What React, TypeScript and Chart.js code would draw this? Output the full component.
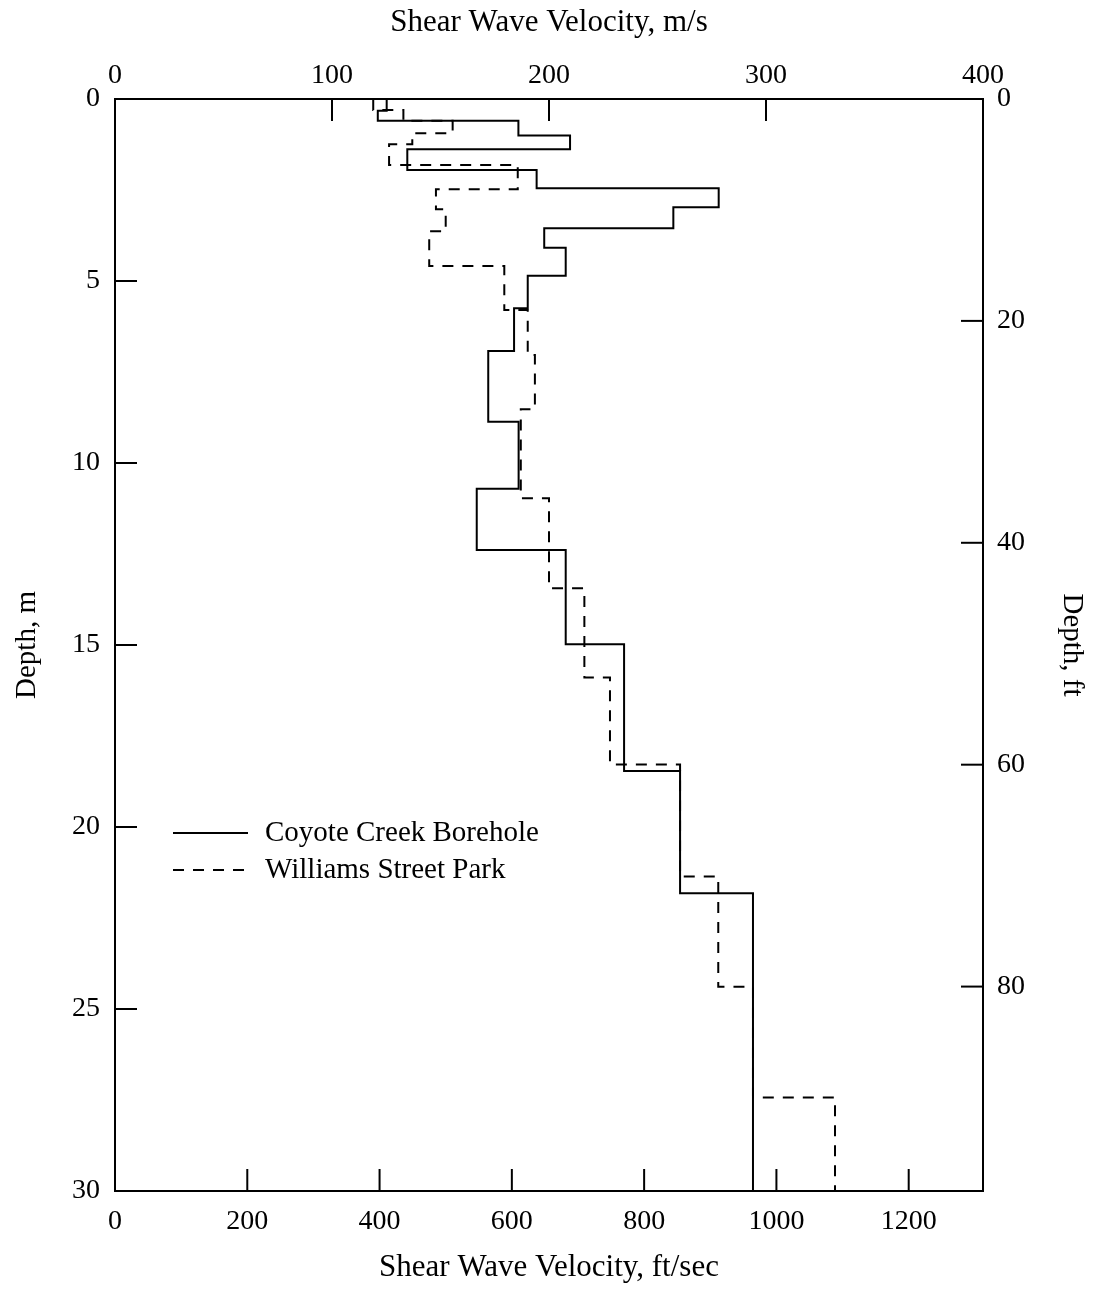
import React, { useEffect, useRef } from 'react';
import { Chart, registerables } from 'chart.js';

Chart.register(...registerables);

const FT_PER_M = 1 / 0.3048;

// Layer boundaries (depth, m) and shear-wave velocity per layer (m/s)
const coyoteDepthsM = [0, 0.32, 0.6, 1.0, 1.38, 1.95, 2.45, 2.975, 3.55, 4.085, 4.855, 5.75, 6.92, 8.87, 10.71, 12.39, 14.98, 18.46, 21.82, 30];
const coyoteVsMs = [125.2, 121.1, 185.9, 209.7, 134.7, 194.3, 278.2, 257.3, 197.8, 207.7, 190.2, 183.9, 172.0, 186.0, 166.7, 207.7, 234.6, 260.4, 294.0];

const williamsDepthsM = [0, 0.3, 0.6, 0.94, 1.24, 1.81, 2.48, 3.03, 3.63, 4.59, 5.8, 7.03, 8.52, 10.97, 13.44, 15.89, 18.28, 21.36, 24.39, 27.43, 30];
const williamsVsMs = [119.0, 132.9, 155.6, 137.0, 126.3, 185.6, 147.9, 152.4, 144.8, 179.4, 190.2, 193.5, 187.0, 200.0, 216.3, 228.1, 260.4, 278.0, 294.0, 331.8];

const seriesLabels = ['Coyote Creek Borehole', 'Williams Street Park'];

const velocityMsMax = 400;
const depthMMax = 30;

const FONT = "'Liberation Serif', 'Times New Roman', serif";

function stepPoints(depths: number[], vs: number[]) {
  const pts: { x: number; y: number }[] = [];
  vs.forEach((v, i) => {
    pts.push({ x: v, y: depths[i] });
    pts.push({ x: v, y: depths[i + 1] });
  });
  return pts;
}

const inwardTicks = {
  id: 'inwardTicks',
  afterDatasetsDraw(chart: any) {
    const { ctx, chartArea: a } = chart;
    const len = 22;
    ctx.save();
    ctx.strokeStyle = '#000';
    ctx.lineWidth = 2;
    ['x', 'x2', 'y', 'y2'].forEach((id) => {
      const s = chart.scales[id];
      s.ticks.forEach((t: any) => {
        const p = s.getPixelForValue(t.value);
        ctx.beginPath();
        if (s.position === 'top') { ctx.moveTo(p, a.top); ctx.lineTo(p, a.top + len); }
        else if (s.position === 'bottom') { ctx.moveTo(p, a.bottom); ctx.lineTo(p, a.bottom - len); }
        else if (s.position === 'left') { ctx.moveTo(a.left, p); ctx.lineTo(a.left + len, p); }
        else { ctx.moveTo(a.right, p); ctx.lineTo(a.right - len, p); }
        ctx.stroke();
      });
    });
    ctx.restore();
  },
};

const innerLegend = {
  id: 'innerLegend',
  afterDatasetsDraw(chart: any) {
    const { ctx, chartArea: a } = chart;
    ctx.save();
    ctx.font = `29px ${FONT}`;
    ctx.fillStyle = '#000';
    ctx.textBaseline = 'middle';
    ctx.textAlign = 'left';
    chart.data.datasets.forEach((ds: any, i: number) => {
      const y = a.top + 734 + i * 37;
      const x0 = a.left + 58;
      ctx.strokeStyle = '#000';
      ctx.lineWidth = 2;
      ctx.setLineDash(ds.borderDash || []);
      ctx.beginPath();
      ctx.moveTo(x0, y);
      ctx.lineTo(x0 + 75, y);
      ctx.stroke();
      ctx.setLineDash([]);
      ctx.fillText(ds.label, x0 + 92, y);
    });
    ctx.restore();
  },
};

const plainNumber = (v: any) => String(v);
const tickFont = { family: FONT, size: 28 };
const hTitleFont = { family: FONT, size: 31 };
const vTitleFont = { family: FONT, size: 29 };

export default function App() {
  const ref = useRef<HTMLCanvasElement>(null);
  useEffect(() => {
    document.body.style.margin = '0';
    const chart = new Chart(ref.current!, {
      type: 'scatter',
      data: {
        datasets: [
          {
            label: seriesLabels[0],
            data: stepPoints(coyoteDepthsM, coyoteVsMs),
            showLine: true,
            borderColor: '#000',
            borderWidth: 2,
            pointRadius: 0,
            xAxisID: 'x',
            yAxisID: 'y',
          },
          {
            label: seriesLabels[1],
            data: stepPoints(williamsDepthsM, williamsVsMs),
            showLine: true,
            borderColor: '#000',
            borderWidth: 2,
            borderDash: [11, 9],
            pointRadius: 0,
            xAxisID: 'x',
            yAxisID: 'y',
          },
        ],
      },
      options: {
        responsive: false,
        animation: false,
        layout: { padding: 0 },
        plugins: { legend: { display: false }, tooltip: { enabled: false } },
        scales: {
          x: {
            type: 'linear',
            position: 'top',
            min: 0,
            max: velocityMsMax,
            grid: { display: false, drawTicks: false },
            border: { display: true, color: '#000', width: 2 },
            ticks: { stepSize: 100, font: tickFont, color: '#000', padding: 7, callback: plainNumber },
            title: { display: true, text: 'Shear Wave Velocity, m/s', font: hTitleFont, color: '#000', padding: { top: 4, bottom: 0 } },
            afterFit: (s: any) => { s.height = 99; },
          },
          x2: {
            type: 'linear',
            position: 'bottom',
            min: 0,
            max: velocityMsMax * FT_PER_M,
            grid: { display: false, drawTicks: false },
            border: { display: true, color: '#000', width: 2 },
            ticks: { stepSize: 200, includeBounds: false, font: tickFont, color: '#000', padding: 14, callback: plainNumber },
            title: { display: true, text: 'Shear Wave Velocity, ft/sec', font: hTitleFont, color: '#000', padding: { top: 0, bottom: 3 } },
            afterFit: (s: any) => { s.height = 98; },
          },
          y: {
            type: 'linear',
            position: 'left',
            reverse: true,
            min: 0,
            max: depthMMax,
            grid: { display: false, drawTicks: false },
            border: { display: true, color: '#000', width: 2 },
            ticks: { stepSize: 5, font: tickFont, color: '#000', padding: 15, callback: plainNumber },
            title: { display: true, text: 'Depth, m', font: vTitleFont, color: '#000', padding: { top: 10, bottom: 0 } },
            afterFit: (s: any) => { s.width = 115; },
          },
          y2: {
            type: 'linear',
            position: 'right',
            reverse: true,
            min: 0,
            max: depthMMax * FT_PER_M,
            grid: { display: false, drawTicks: false },
            border: { display: true, color: '#000', width: 2 },
            ticks: { stepSize: 20, includeBounds: false, font: tickFont, color: '#000', padding: 14, callback: plainNumber },
            title: { display: true, text: 'Depth, ft', font: vTitleFont, color: '#000', padding: { top: 9, bottom: 0 } },
            afterFit: (s: any) => { s.width = 115; },
          },
        },
      },
      plugins: [inwardTicks, innerLegend],
    } as any);
    return () => chart.destroy();
  }, []);
  return (
    <div style={{ position: 'absolute', left: 0, top: 0, width: 1098, height: 1289, background: '#fff' }}>
      <canvas ref={ref} width={1098} height={1289} style={{ display: 'block' }} />
    </div>
  );
}
